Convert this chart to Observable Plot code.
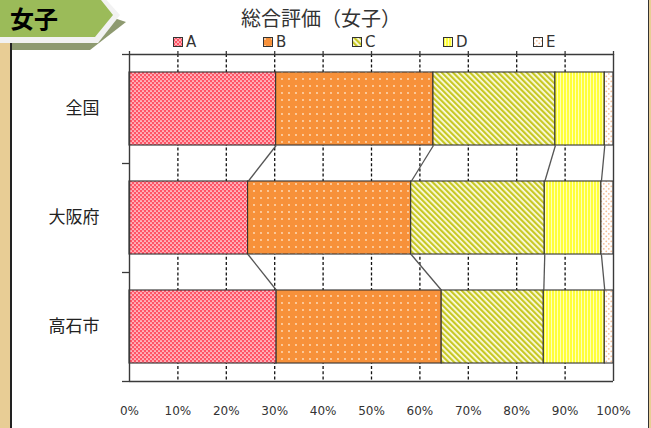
<!DOCTYPE html>
<html><head><meta charset="utf-8">
<script src="https://cdn.jsdelivr.net/npm/d3@7"></script>
<script src="https://cdn.jsdelivr.net/npm/@observablehq/plot@0.6"></script>
<style>
html,body{margin:0;padding:0;background:#fff;}
#wrap{position:relative;width:651px;height:428px;overflow:hidden;background:#fff;font-family:"DejaVu Sans",sans-serif;}
.abs{position:absolute;}
</style></head><body>
<svg width="0" height="0" style="position:absolute">
  <defs>
    <pattern id="patA" width="4" height="4" patternUnits="userSpaceOnUse">
      <rect width="4" height="4" fill="#FF5466"/>
      <circle cx="1" cy="1" r="0.85" fill="#fff"/>
      <circle cx="3" cy="3" r="0.85" fill="#fff"/>
    </pattern>
    <pattern id="patB" width="7" height="7" patternUnits="userSpaceOnUse">
      <rect width="7" height="7" fill="#F7913A"/>
      <circle cx="2" cy="2" r="0.9" fill="#FDE2C4"/>
    </pattern>
    <pattern id="patC" width="4" height="4" patternUnits="userSpaceOnUse" patternTransform="rotate(-45)">
      <rect width="4" height="4" fill="#FCFCE4"/>
      <rect width="2.2" height="4" fill="#C8C824"/>
    </pattern>
    <pattern id="patD" width="3" height="3" patternUnits="userSpaceOnUse">
      <rect width="3" height="3" fill="#FFFF3A"/>
      <rect x="2" width="0.9" height="3" fill="#FFFFC8"/>
    </pattern>
    <pattern id="patE" width="5" height="5" patternUnits="userSpaceOnUse">
      <rect width="5" height="5" fill="#fff"/>
      <circle cx="1.3" cy="1.3" r="0.9" fill="#F6BE94"/>
      <circle cx="3.8" cy="3.8" r="0.9" fill="#F6BE94"/>
    </pattern>
  </defs>
</svg>
<div id="wrap"></div>
<script>
// ---- data ----
const categories = ["全国", "大阪府", "高石市"];
const grades = ["A", "B", "C", "D", "E"];
const valuesA = [30.3, 24.5, 30.4];
const valuesB = [32.5, 33.7, 34.1];
const valuesC = [25.2, 27.6, 21.1];
const valuesD = [10.2, 11.7, 12.6];
const valuesE = [1.8, 2.5, 1.8];
const xTicks = [0, 10, 20, 30, 40, 50, 60, 70, 80, 90, 100];
const xTickLabels = ["0%", "10%", "20%", "30%", "40%", "50%", "60%", "70%", "80%", "90%", "100%"];
const chartTitle = "総合評価（女子）";
const badgeText = "女子";

// ---- build table ----
const series = [valuesA, valuesB, valuesC, valuesD, valuesE];
const half = 0.335;
const segments = [];
const cums = categories.map(() => []);
categories.forEach((c, i) => {
  let acc = 0;
  grades.forEach((g, k) => {
    const v = series[k][i];
    segments.push({cat: c, idx: i, grade: g, x1: acc, x2: acc + v});
    acc += v;
    cums[i].push(acc);
  });
});
const links = [];
for (let i = 0; i < categories.length - 1; i++) {
  for (let k = 0; k < grades.length - 1; k++) {
    links.push({x1: cums[i][k], y1: i + half, x2: cums[i + 1][k], y2: i + 1 - half});
  }
}
const gridTicks = xTicks.filter(t => t > 0 && t < 100);
const catIdx = categories.map((c, i) => i);
const bounds = [-0.5, 0.5, 1.5, 2.5];

const frameColor = "#3a3a3a";
const plot = Plot.plot({
  width: 651, height: 428,
  marginLeft: 129, marginRight: 38, marginTop: 54, marginBottom: 47,
  x: {domain: [0, 100]},
  y: {domain: [-0.5, 2.5], reverse: true},
  style: {background: "transparent", color: "#333", overflow: "visible"},
  marks: [
    Plot.ruleX(gridTicks, {stroke: "#111", strokeWidth: 1.3, strokeDasharray: "3,2.2"}),
    Plot.rect(segments, {x1: "x1", x2: "x2", y1: d => d.idx - half, y2: d => d.idx + half,
      fill: d => `url(#pat${d.grade})`, stroke: "#333", strokeWidth: 1.1}),
    Plot.link(links, {x1: "x1", y1: "y1", x2: "x2", y2: "y2", stroke: "#555", strokeWidth: 1.3}),
    Plot.ruleX([0, 100], {stroke: frameColor, strokeWidth: 1.4}),
    Plot.ruleY([-0.5, 2.5], {stroke: frameColor, strokeWidth: 1.4}),
    Plot.axisX({anchor: "top", ticks: xTicks, tickSize: 4, tickFormat: () => "", label: null, stroke: frameColor, strokeWidth: 1.3}),
    Plot.axisX({anchor: "bottom", ticks: xTicks, tickSize: 0, tickPadding: 25,
      tickFormat: d => xTickLabels[xTicks.indexOf(d)], label: null,
      fontSize: 12, fontFamily: "DejaVu Sans", fill: "#333"}),
    Plot.axisY({ticks: bounds, tickSize: 7, tickFormat: () => "", label: null, stroke: frameColor, strokeWidth: 1.3}),
    Plot.axisY({ticks: catIdx, tickSize: 0, tickPadding: 30,
      tickFormat: d => categories[d], label: null,
      fontSize: 17, fontFamily: "Noto Sans CJK JP", fill: "#222"})
  ]
});
plot.style.position = "absolute";
plot.style.left = "0px";
plot.style.top = "0px";

const wrap = document.getElementById("wrap");
wrap.appendChild(plot);

// side strips (page decoration)
const strips = [
  {left: 0, width: 10, bg: "#E8CD95"},
  {left: 10, width: 1.6, bg: "#222"},
  {left: 647.5, width: 1.5, bg: "#333"},
  {left: 649, width: 2, bg: "#E8CD95"}
];
strips.forEach(s => {
  const d = document.createElement("div");
  d.className = "abs";
  Object.assign(d.style, {left: s.left + "px", top: "0px", width: s.width + "px", height: "428px", background: s.bg});
  wrap.appendChild(d);
});

// badge
const badge = document.createElementNS("http://www.w3.org/2000/svg", "svg");
badge.setAttribute("width", "130");
badge.setAttribute("height", "55");
badge.style.position = "absolute";
badge.style.left = "0px";
badge.style.top = "0px";
badge.innerHTML = `
  <polygon points="12,12 96,12 126,22 90,50 12,50" fill="#8E9A70"/>
  <polygon points="-5,-5 102,-5 120,15 98,43 -5,43" fill="#F2F2F2"/>
  <polygon points="-5,-5 97,-5 113,15 95,37 -5,37" fill="#9BBB59"/>
  <text x="10" y="28" font-size="24" font-weight="bold" font-family="Noto Sans CJK JP" fill="#000">${badgeText}</text>`;
wrap.appendChild(badge);

// title
const title = document.createElement("div");
title.className = "abs";
Object.assign(title.style, {left: "0px", top: "6px", width: "642px", textAlign: "center",
  fontSize: "20px", lineHeight: "23px", fontFamily: "Noto Sans CJK JP", color: "#333"});
title.textContent = chartTitle;
wrap.appendChild(title);

// legend
const legendX = [173, 263, 352, 443, 533];
grades.forEach((g, k) => {
  const item = document.createElement("div");
  item.className = "abs";
  Object.assign(item.style, {left: legendX[k] + "px", top: "33px", height: "18px", display: "flex", alignItems: "center"});
  item.innerHTML = `<svg width="10" height="10" style="display:block"><rect x="0.5" y="0.5" width="9" height="9" fill="url(#pat${g})" stroke="#333" stroke-width="1"/></svg>` +
    `<span style="margin-left:3px;font-size:15px;line-height:18px;font-family:'DejaVu Sans';color:#333">${g}</span>`;
  wrap.appendChild(item);
});
</script>
</body></html>
